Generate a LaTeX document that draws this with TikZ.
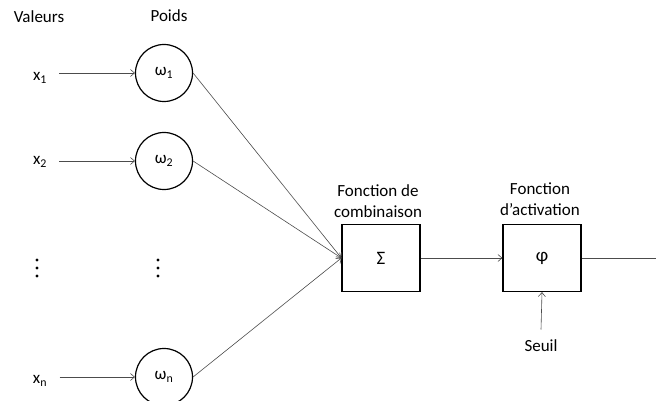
\documentclass[tikz,border=0pt]{standalone}
\usepackage{fontspec}
\setmainfont{Carlito}
\usetikzlibrary{arrows.meta}
\tikzset{
    poids/.style = {draw, circle, line width=1.2pt, minimum size=57pt, inner sep=0pt},
    bloc/.style = {draw, rectangle, line width=1.2pt, minimum width=78pt, minimum height=67pt, inner sep=0pt, font=\fontsize{19}{21}\selectfont},
    fleche/.style = {-{Straight Barb[length=4pt,width=7pt]}, draw=black!70, line width=0.6pt},
}
\begin{document}
\begin{tikzpicture}[x=1pt, y=-1pt, font=\fontsize{17}{21}\selectfont]
            \useasboundingbox (0,0) rectangle (656,401);
            % titres
            \node (valeurs) at (39,17) {Valeurs};
            \node (titrepoids) at (169,16) {Poids};
            % entrees et poids
            \node (x1) at (40,78) {x\textsubscript{1}};
            \node (x2) at (40,162) {x\textsubscript{2}};
            \node (xn) at (40,381) {x\textsubscript{n}};
            \node[poids] (w1) at (164,73) {ω\textsubscript{1}};
            \node[poids] (w2) at (164,161) {ω\textsubscript{2}};
            \node[poids] (wn) at (164,377) {ω\textsubscript{n}};
            \foreach \px in {37,158}
                \foreach \dy in {-8,0,8}
                    \fill (\px,268+\dy) circle (1.6);
            % blocs
            \node[bloc] (sum) at (381,258) {Σ};
            \node[bloc] (phi) at (542,258) {φ};
            \node[align=center, anchor=south] (comb) at (378,221) {Fonction de\\combinaison};
            \node[align=center, anchor=south] (activ) at (540,219) {Fonction\\d’activation};
            \node (seuil) at (541,346) {Seuil};
            \coordinate (sortie) at (656,258);
            % connexions
            \foreach \x/\w in {x1/w1,x2/w2,xn/wn}
                \draw[fleche] (\x.east |- \w.west) ++(9,0) -- (\w.west);
            \foreach \w in {w1,w2,wn}
                \draw[fleche] (\w.east) -- (sum.west);
            \draw[fleche] (sum.east) -- (phi.west);
            \draw[fleche] (seuil.north) ++(0,-7) -- (phi.south);
            \draw[draw=black!70, line width=0.6pt] (phi.east) -- (sortie);
        \end{tikzpicture}
\end{document}
